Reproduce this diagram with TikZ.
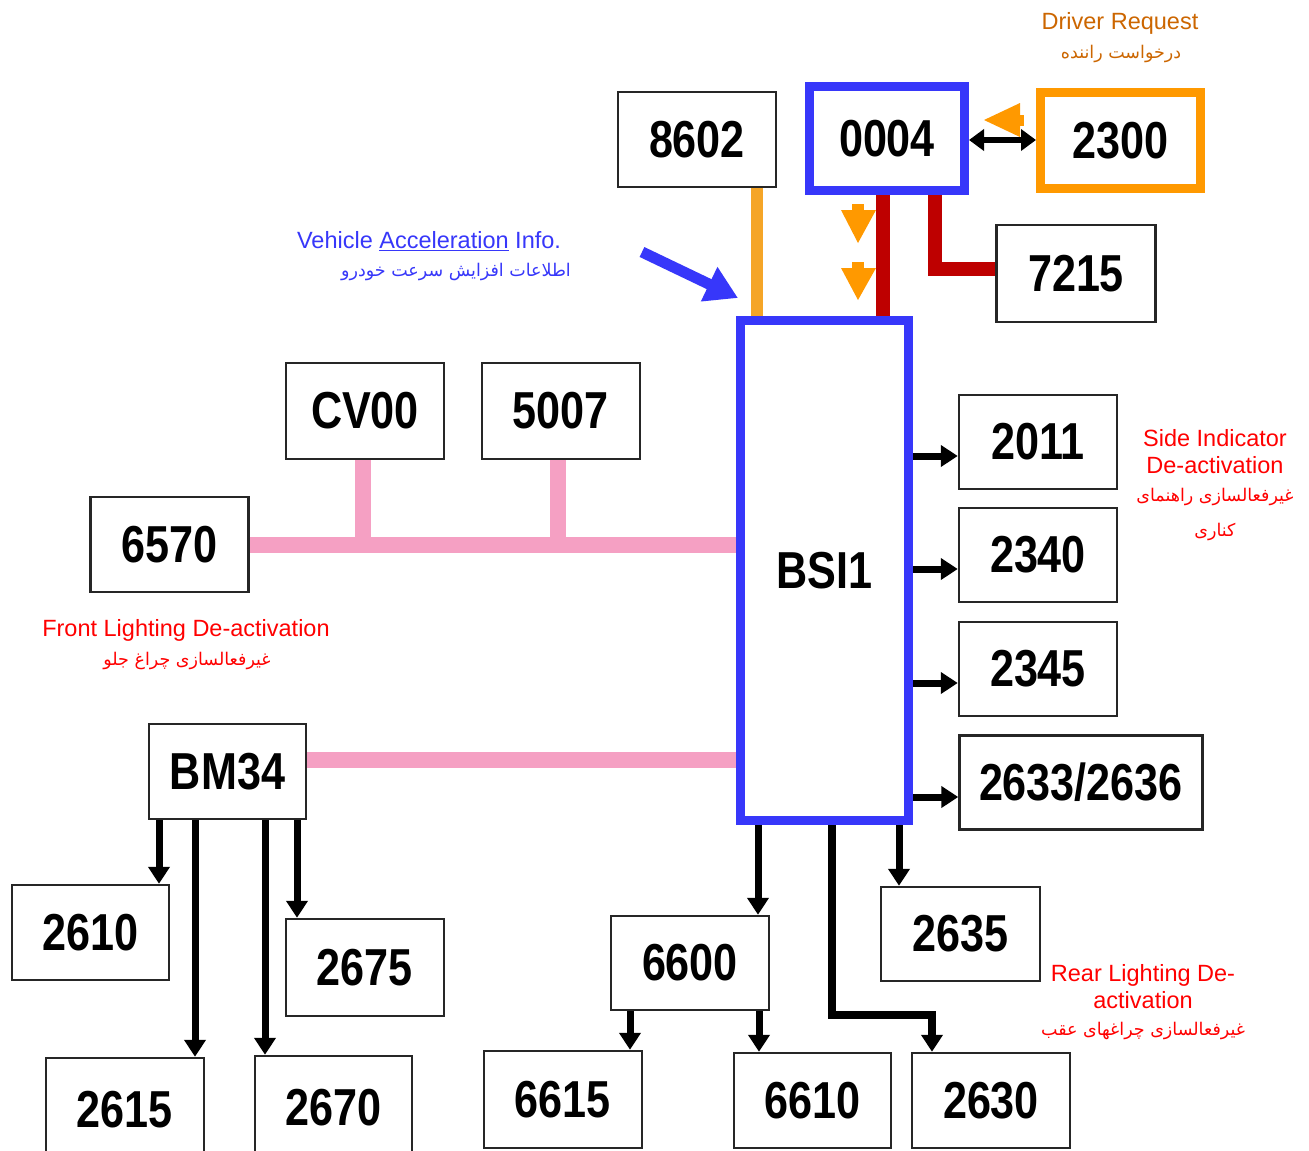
\documentclass[tikz,border=0pt]{standalone}
\usepackage{fontspec}
\setmainfont{Liberation Sans}
\newfontfamily\numfont[FakeStretch=0.83]{Liberation Sans}
\newfontfamily\arabicfont[Script=Arabic]{DejaVu Sans}
\TeXXeTstate=1
\usetikzlibrary{arrows.meta}
\definecolor{bblue}{RGB}{55,55,250}
\definecolor{oorange}{RGB}{255,153,0}
\definecolor{lorange}{RGB}{245,165,40}
\definecolor{dred}{RGB}{190,0,0}
\definecolor{ppink}{RGB}{245,160,195}
\definecolor{brorange}{RGB}{204,102,0}
\definecolor{tred}{RGB}{255,0,0}
\begin{document}
\begin{tikzpicture}[x=1pt,y=-1pt,
  box/.style={draw=black!85, line width=2.5pt, fill=white, inner sep=0pt,
    font={\numfont\bfseries\fontsize{52}{52}\selectfont}},
  bluebox/.style={box, draw=bblue, line width=9pt},
  orangebox/.style={box, draw=oorange, line width=9pt},
  arr/.style={draw=black, line width=7pt, -{Triangle[length=17pt,width=21pt]}},
  pinkbus/.style={draw=ppink, line width=16pt},
  redbus/.style={draw=dred, line width=14pt, line join=miter},
  lbl/.style={inner sep=0pt, font={\fontsize{23.5}{26}\selectfont}},
  plbl/.style={inner sep=0pt, font={\arabicfont\fontsize{17.5}{20}\selectfont}}
]
\clip (0,0) rectangle (1309,1151);
\fill[white] (0,0) rectangle (1309,1151);

% boxes
\node[box, minimum width=158pt, minimum height=95pt] (n8602) at (697,139.5) {8602};
\node[bluebox, minimum width=155pt, minimum height=104pt] (n0004) at (887,138.5) {0004};
\node[orangebox, minimum width=160pt, minimum height=96pt] (n2300) at (1120.5,140.5) {2300};
\node[box, minimum width=159pt, minimum height=97pt] (n7215) at (1076,273.5) {7215};
\node[bluebox, minimum width=168pt, minimum height=500pt] (BSI1) at (824.5,570.5) {BSI1};
\node[box, minimum width=158pt, minimum height=94pt] (n2011) at (1038,442) {2011};
\node[box, minimum width=158pt, minimum height=94pt] (n2340) at (1038,555) {2340};
\node[box, minimum width=158pt, minimum height=94pt] (n2345) at (1038,669) {2345};
\node[box, minimum width=243pt, minimum height=94pt] (n2633) at (1081,782.5) {2633/2636};
\node[box, minimum width=158pt, minimum height=96pt] (nCV00) at (365,411) {CV00};
\node[box, minimum width=158pt, minimum height=96pt] (n5007) at (561,411) {5007};
\node[box, minimum width=158pt, minimum height=95pt] (n6570) at (169.5,544.5) {6570};
\node[box, minimum width=157pt, minimum height=95pt] (BM34) at (227.5,771.5) {BM34};
\node[box, minimum width=157pt, minimum height=95pt] (n2610) at (90.5,932.5) {2610};
\node[box, minimum width=158pt, minimum height=97pt] (n2675) at (365,967.5) {2675};
\node[box, minimum width=158pt, minimum height=104pt] (n2615) at (125,1110) {2615};
\node[box, minimum width=157pt, minimum height=104pt] (n2670) at (333.5,1108) {2670};
\node[box, minimum width=158pt, minimum height=94pt] (n6600) at (690,963) {6600};
\node[box, minimum width=158pt, minimum height=97pt] (n6615) at (563,1099.5) {6615};
\node[box, minimum width=157pt, minimum height=95pt] (n6610) at (812.5,1100.5) {6610};
\node[box, minimum width=158pt, minimum height=95pt] (n2630) at (991,1100.5) {2630};
\node[box, minimum width=159pt, minimum height=94pt] (n2635) at (960.5,934) {2635};

% helper coordinates
\coordinate (o1) at (757,0);
\coordinate (r1) at (883,0);
\coordinate (r2) at (935,269);
\coordinate (pc1) at (363,0);
\coordinate (pc2) at (558,0);
\coordinate (pb) at (0,760);
\coordinate (da) at (0,140);
\coordinate (a1) at (0,456);
\coordinate (a2) at (0,569);
\coordinate (a3) at (0,683);
\coordinate (a4) at (0,797);
\coordinate (b1) at (159,0);
\coordinate (b2) at (195,0);
\coordinate (b3) at (265,0);
\coordinate (b4) at (297,0);
\coordinate (s1) at (758,0);
\coordinate (s2) at (899,0);
\coordinate (t1) at (832,1015);
\coordinate (t2) at (932,1015);
\coordinate (u1) at (630,0);
\coordinate (u2) at (759,0);
\coordinate (va1) at (642,252);
\coordinate (va2) at (738,298);

% buses
\draw[draw=lorange, line width=12pt] (n8602.south -| o1) -- (BSI1.north -| o1);
\draw[redbus] (n0004.south -| r1) -- (BSI1.north -| r1);
\draw[redbus] (n0004.south -| r2) -- (r2) -- (n7215.west |- r2);
\draw[pinkbus] (n6570.east) -- (n6570.east -| BSI1.west);
\draw[pinkbus] (nCV00.south -| pc1) -- (pc1 |- n6570.east);
\draw[pinkbus] (n5007.south -| pc2) -- (pc2 |- n6570.east);
\draw[pinkbus] (BM34.east |- pb) -- (BSI1.west |- pb);

% arrows
\draw[line width=6pt, {Triangle[length=15pt,width=21pt]}-{Triangle[length=15pt,width=21pt]}]
  (n0004.east |- da) -- (n2300.west |- da);
\draw[arr] (BSI1.east |- a1) -- (n2011.west |- a1);
\draw[arr] (BSI1.east |- a2) -- (n2340.west |- a2);
\draw[arr] (BSI1.east |- a3) -- (n2345.west |- a3);
\draw[arr] (BSI1.east |- a4) -- (n2633.west |- a4);
\draw[arr] (BM34.south -| b1) -- (n2610.north -| b1);
\draw[arr] (BM34.south -| b2) -- (n2615.north -| b2);
\draw[arr] (BM34.south -| b3) -- (n2670.north -| b3);
\draw[arr] (BM34.south -| b4) -- (n2675.north -| b4);
\draw[arr] (BSI1.south -| s1) -- (n6600.north -| s1);
\draw[arr] (BSI1.south -| s2) -- (n2635.north -| s2);
\draw[arr, line width=8pt, line join=miter] (BSI1.south -| t1) -- (t1) -- (t2) -- (n2630.north -| t2);
\draw[arr] (n6600.south -| u1) -- (n6615.north -| u1);
\draw[arr] (n6600.south -| u2) -- (n6610.north -| u2);
\draw[draw=bblue, line width=11pt, -{Triangle[length=32pt,width=36pt]}] (va1) -- (va2);

% orange indicator arrows
\fill[oorange] (1020,103) -- (984,120) -- (1020,137) -- cycle;
\fill[oorange] (1019,115) rectangle (1024,126);
\fill[oorange] (852,204) rectangle (864,211);
\fill[oorange] (841,210) -- (876,210) -- (858,243) -- cycle;
\fill[oorange] (852,262) rectangle (864,269);
\fill[oorange] (841,268) -- (876,268) -- (858,300) -- cycle;

% labels
\node[lbl, text=brorange] (ldr) at (1120,23) {Driver Request};
\node[plbl, text=brorange] (ldrp) at (1121,54) {\beginR درخواست راننده\endR};
\node[lbl, text=bblue] (lva) at (429,241) {Vehicle \underline{Acceleration} Info.};
\node[plbl, text=bblue] (lvap) at (456,272) {\beginR اطلاعات افزایش سرعت خودرو\endR};
\node[lbl, text=tred, align=center, font={\fontsize{23.5}{27}\selectfont}] (lsi) at (1215,452) {Side Indicator\\De-activation};
\node[plbl, text=tred] (lsip1) at (1215,497) {\beginR غیرفعالسازی راهنمای\endR};
\node[plbl, text=tred] (lsip2) at (1215,532) {\beginR کناری\endR};
\node[lbl, text=tred] (lfl) at (186,630) {Front Lighting De-activation};
\node[plbl, text=tred] (lflp) at (187,661) {\beginR غیرفعالسازی چراغ جلو\endR};
\node[lbl, text=tred, align=center, font={\fontsize{23.5}{27}\selectfont}] (lrl) at (1143,986.5) {Rear Lighting De-\\activation};
\node[plbl, text=tred] (lrlp) at (1143,1031) {\beginR غیرفعالسازی چراغهای عقب\endR};
\end{tikzpicture}
\end{document}
